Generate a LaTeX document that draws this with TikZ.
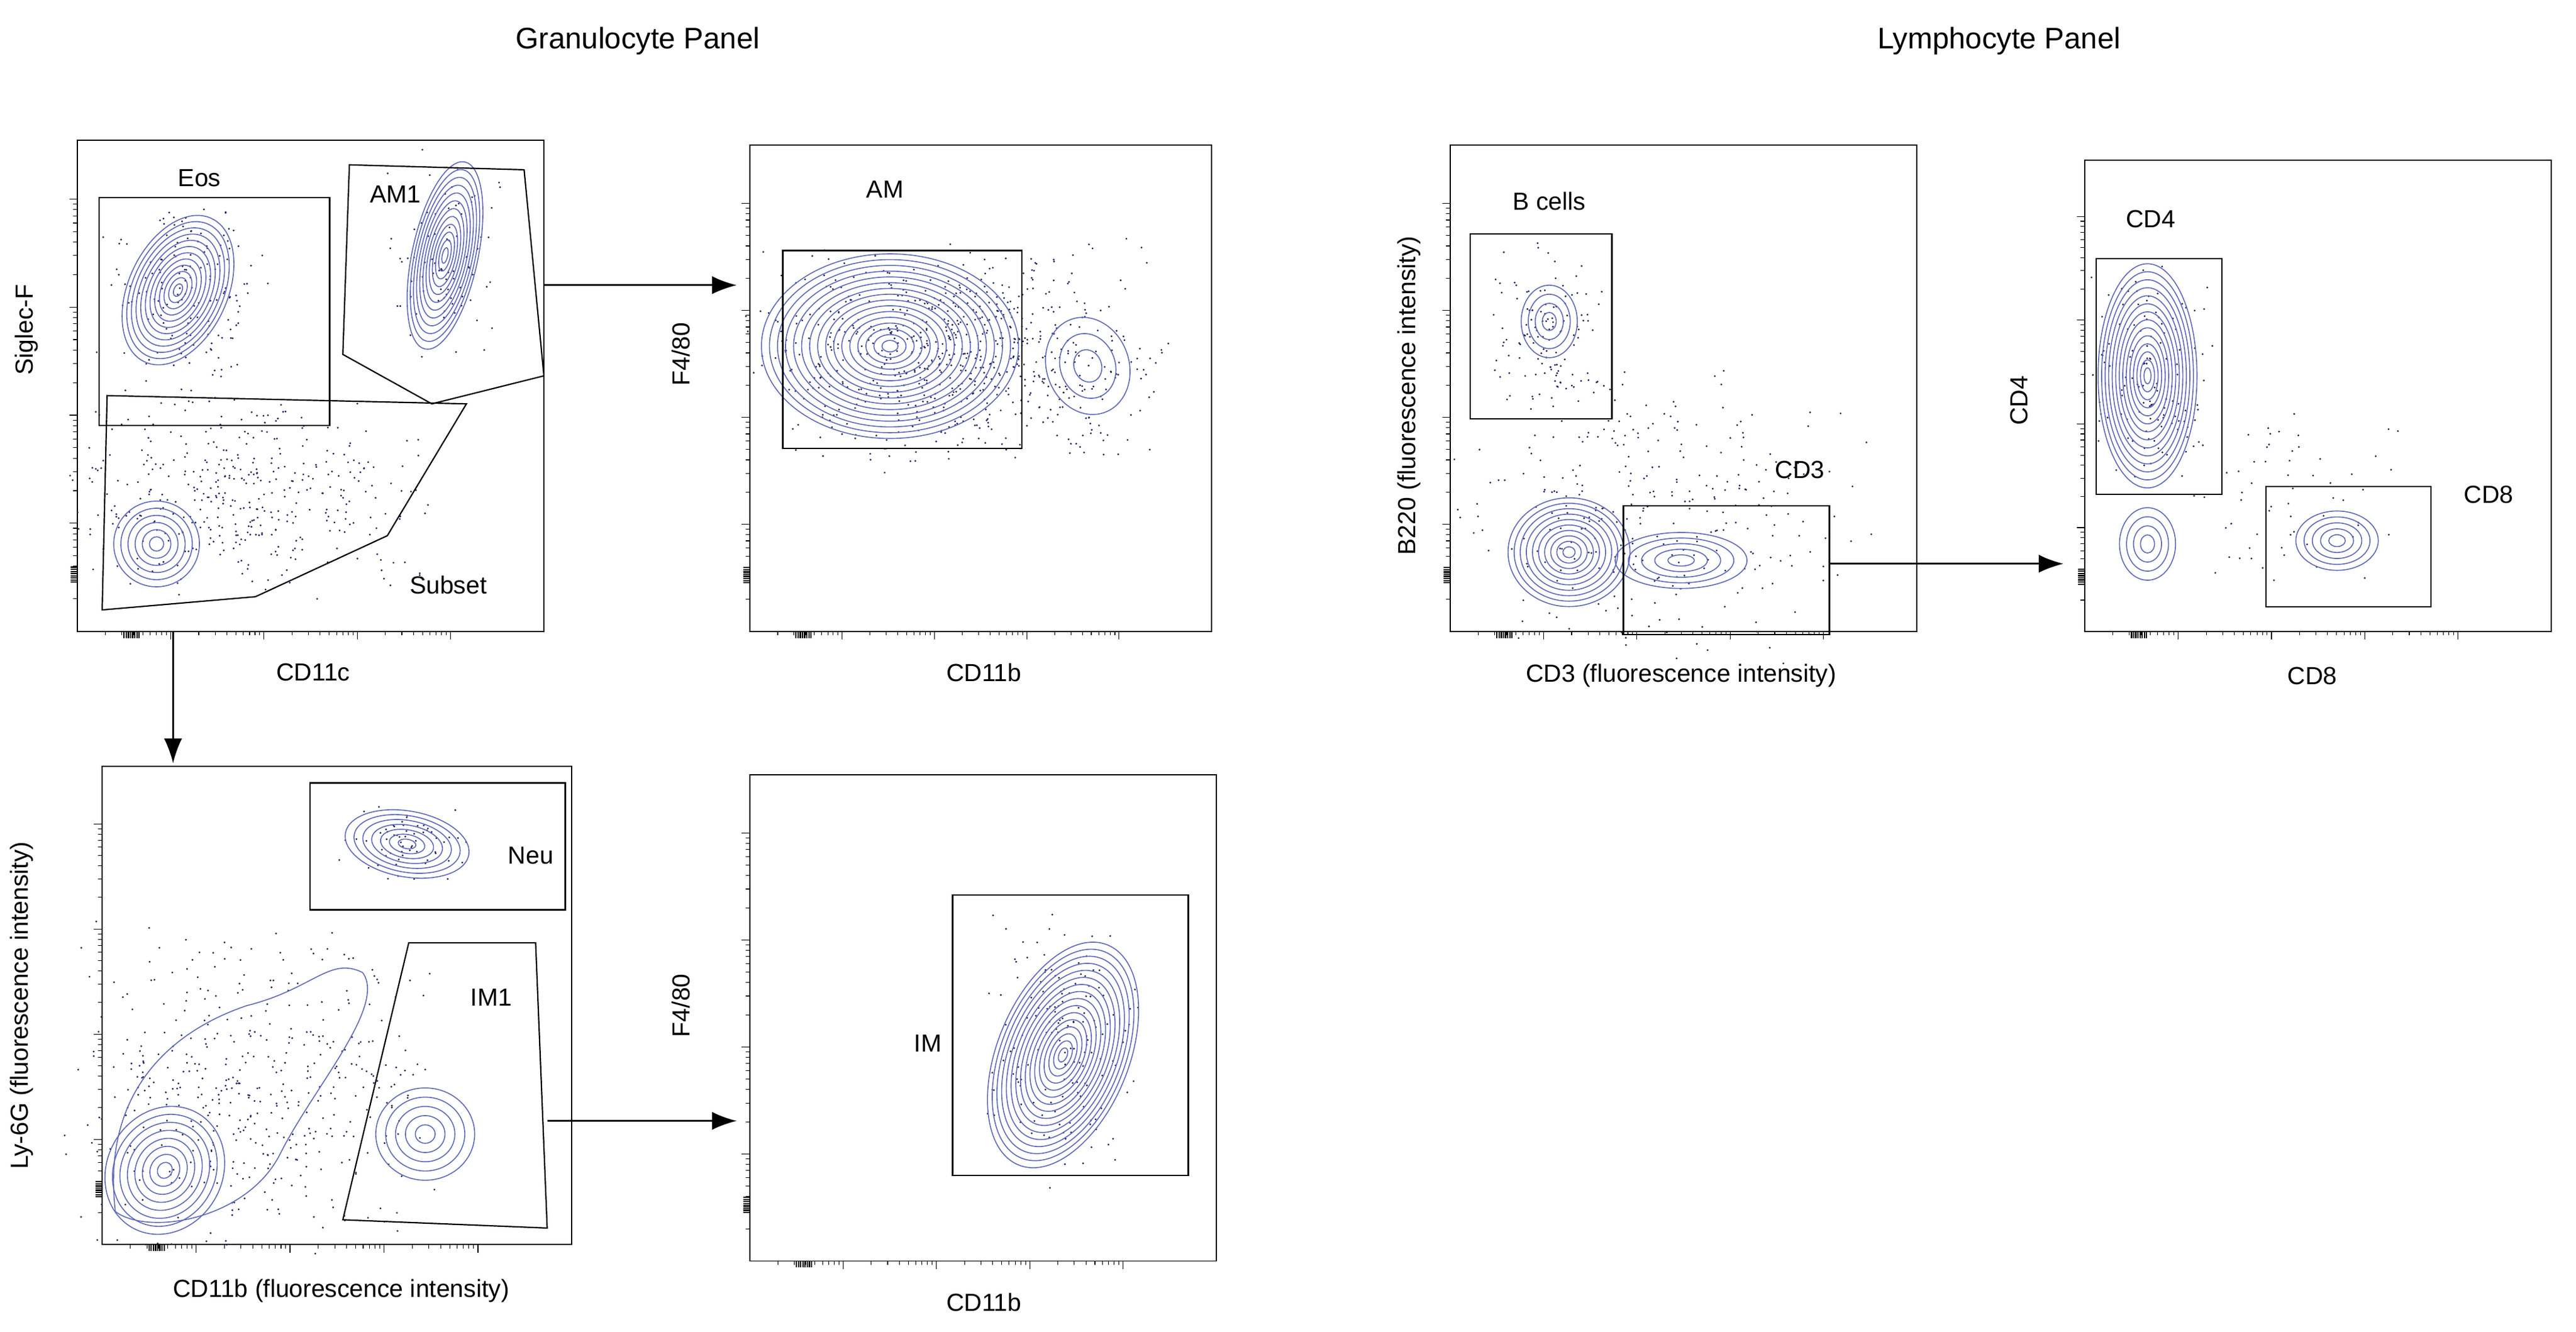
\documentclass[tikz,border=0pt]{standalone}
\usepackage{fontspec}
\setmainfont{Liberation Sans}
\usetikzlibrary{arrows.meta}
\begin{document}
\definecolor{cl}{RGB}{95,105,185}
\definecolor{dt}{RGB}{30,30,90}
\newcommand\cont[6]{\foreach \i in {1,...,#6}{\draw[cl,line width=0.6pt,rotate around={#5:(#1,#2)}] (#1,#2) ellipse ({#3*\i/#6} and {#4*\i/#6});}}
\newcommand\scat[5]{\foreach \k in {1,...,#5}{\fill[dt] ({#1+#3*(rand+rand)/1.5},{#2+#4*(rand+rand)/1.5}) circle (0.6);}}
\newcommand\axes[4]{%
 \draw[line width=0.7pt] (#1,#2) rectangle (#3,#4);
 \pgfmathsetmacro\H{(#4-#2)}\pgfmathsetmacro\W{(#3-#1)}
 \foreach \d in {0,1,2,3}{
  \draw ({#1},{#4-0.22*\H-\d*0.22*\H}) -- ++(-5,0);
  \draw ({#1+0.2*\W+\d*0.2*\W},{#4}) -- ++(0,5);
  \foreach \m in {2,...,9}{
   \draw ({#1},{#4-0.22*\H-\d*0.22*\H+0.22*\H*(1-log10(\m))}) -- ++(-2.5,0);
   \draw ({#1+0.2*\W+\d*0.2*\W-0.2*\W*(1-log10(\m))},{#4}) -- ++(0,2.5);}}
 \foreach \t in {0,...,7}{\draw[line width=0.8pt] ({#1+0.1*\W+\t*1.3},{#4}) -- ++(0,4); \draw[line width=0.8pt] ({#1},{#4-0.1*\H-\t*1.3}) -- ++(-4,0);}
}
\begin{tikzpicture}[x=1pt,y=-1pt,lab/.style={font=\fontsize{15}{17}\selectfont},
 ttl/.style={font=\fontsize{18}{20}\selectfont},gate/.style={line width=0.8pt},
 arr/.style={-{Latex[length=15pt,width=11pt]},line width=1pt}]
\pgfmathsetseed{7}
\useasboundingbox (0,0) rectangle (1563,808);
\node[ttl] (t1) at (387,25) {Granulocyte Panel};
\node[ttl] (t2) at (1213,25) {Lymphocyte Panel};
% P1
\axes{47}{85}{330}{383}
\node[lab,rotate=90] (y1) at (16,200) {Siglec-F};
\node[lab] (x1) at (190,408) {CD11c};
\scat{110}{180}{45}{50}{150}\scat{270}{160}{30}{55}{80}\scat{150}{300}{90}{50}{400}
\cont{108}{176}{30}{48}{-25}{12}
\cont{270}{155}{20}{58}{-12}{12}
\cont{95}{330}{26}{26}{20}{6}
\draw[gate] (60,120) rectangle (200,258); \node[lab] (g1) at (121,108) {Eos};
\draw[gate] (212,100) -- (318,103) -- (330,228) -- (262,245) -- (208,215) -- cycle; \node[lab] (g2) at (240,118) {AM1};
\draw[gate] (65,240) -- (283,245) -- (235,325) -- (155,362) -- (62,370) -- cycle; \node[lab] (g3) at (272,355) {Subset};
\coordinate (a1s) at (330,173); \coordinate (a1e) at (447,173);
\draw[arr] (a1s) -- (a1e);
\coordinate (a2s) at (105,383); \coordinate (a2e) at (105,463);
\draw[arr] (a2s) -- (a2e);
% P2
\axes{455}{88}{735}{383}
\node[lab,rotate=90] (y2) at (413,215) {F4/80};
\node[lab] (x2) at (597,408) {CD11b};
\scat{580}{215}{100}{55}{700}
\cont{540}{210}{78}{56}{0}{16}
\cont{660}{222}{25}{30}{20}{3}
\draw[gate] (475,152) rectangle (620,272); \node[lab] (g4) at (537,115) {AM};
% P3
\axes{62}{465}{347}{755}
\node[lab,rotate=90] (y3) at (13,610) {Ly-6G (fluorescence intensity)};
\node[lab] (x3) at (207,783) {CD11b (fluorescence intensity)};
\scat{150}{660}{90}{80}{450}\scat{245}{512}{30}{18}{60}
\cont{100}{710}{35}{40}{-30}{8}
\draw[cl,line width=0.6pt] (70,735) .. controls (60,650) and (120,620) .. (150,610) .. controls (190,600) and (200,580) .. (220,590) .. controls (235,610) and (190,660) .. (170,700) .. controls (150,740) and (90,750) .. (70,735);
\cont{258}{688}{30}{28}{0}{5}
\cont{247}{512}{38}{20}{-10}{7}
\draw[gate] (188,475) rectangle (343,552); \node[lab] (g5) at (322,519) {Neu};
\draw[gate] (248,572) -- (325,572) -- (332,745) -- (208,740) -- cycle; \node[lab] (g6) at (298,605) {IM1};
\coordinate (a3s) at (332,680); \coordinate (a3e) at (447,680);
\draw[arr] (a3s) -- (a3e);
% P4
\axes{455}{470}{738}{765}
\node[lab,rotate=90] (y4) at (413,610) {F4/80};
\node[lab] (x4) at (597,790) {CD11b};
\scat{645}{635}{40}{65}{150}
\cont{645}{640}{40}{72}{-22}{16}
\draw[gate] (578,543) rectangle (721,713); \node[lab] (g7) at (563,633) {IM};
% P5
\axes{880}{88}{1163}{383}
\node[lab,rotate=90] (y5) at (855,240) {B220 (fluorescence intensity)};
\node[lab] (x5) at (1020,410) {CD3 (fluorescence intensity)};
\scat{940}{200}{30}{45}{120}\scat{1010}{310}{100}{70}{300}
\cont{940}{195}{17}{22}{0}{4}
\cont{952}{335}{37}{33}{0}{10}
\cont{1020}{340}{40}{17}{0}{5}
\draw[gate] (892,142) rectangle (978,254); \node[lab] (g8) at (940,122) {B cells};
\draw[gate] (985,307) rectangle (1110,385); \node[lab] (g9) at (1092,285) {CD3};
\coordinate (a4s) at (1110,342); \coordinate (a4e) at (1252,342);
\draw[arr] (a4s) -- (a4e);
% P6
\axes{1265}{97}{1548}{383}
\node[lab,rotate=90] (y6) at (1225,243) {CD4};
\node[lab] (x6) at (1403,410) {CD8};
\scat{1305}{230}{30}{65}{120}\scat{1390}{300}{50}{50}{60}
\cont{1303}{228}{30}{68}{0}{14}
\cont{1303}{330}{17}{22}{0}{4}
\cont{1418}{328}{25}{18}{0}{5}
\draw[gate] (1272,157) rectangle (1348,300); \node[lab] (g10) at (1305,133) {CD4};
\draw[gate] (1375,295) rectangle (1475,368); \node[lab] (g11) at (1510,300) {CD8};
\end{tikzpicture}
\end{document}
